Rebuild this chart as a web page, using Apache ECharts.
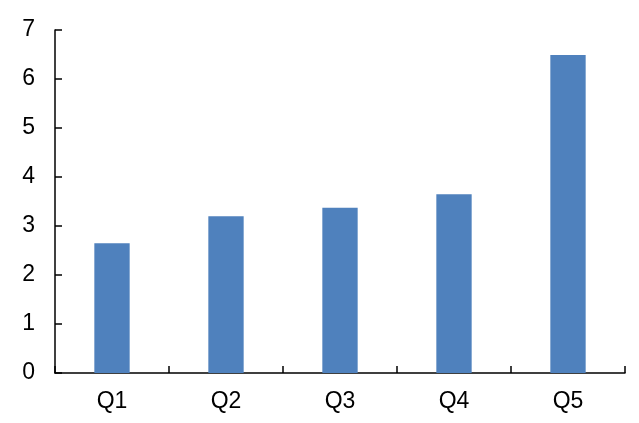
<!DOCTYPE html>
<html><head><meta charset="utf-8">
<script src="https://cdn.jsdelivr.net/npm/echarts@6/dist/echarts.min.js"></script>
<style>html,body{margin:0;padding:0;background:#fff}#c{width:639px;height:423px}</style>
</head><body><div id="c"></div>
<script>
var categories = ['Q1','Q2','Q3','Q4','Q5'];
var values = [2.65, 3.2, 3.37, 3.65, 6.49];
var yTicks = [0,1,2,3,4,5,6,7];
var chart = echarts.init(document.getElementById('c'), null, {renderer:'canvas'});
chart.setOption({
  backgroundColor:'#ffffff',
  animation:false,
  grid:{left:55,right:14,top:30,bottom:50,containLabel:false},
  xAxis:{type:'category',data:categories,
    axisLine:{lineStyle:{color:'#000',width:1.5}},
    axisTick:{show:true,inside:true,length:7,lineStyle:{color:'#000',width:1.5}},
    axisLabel:{color:'#000',fontSize:23,fontFamily:'Liberation Sans, Arial, sans-serif',margin:17}
  },
  yAxis:{type:'value',min:0,max:7,interval:1,
    axisLine:{show:true,lineStyle:{color:'#000',width:1.5}},
    axisTick:{show:true,inside:true,length:7,lineStyle:{color:'#000',width:1.5}},
    splitLine:{show:false},
    axisLabel:{color:'#000',fontSize:23,fontFamily:'Liberation Sans, Arial, sans-serif',margin:20,
      formatter:function(v){return yTicks.indexOf(v)>=0?String(v):'';}}
  },
  series:[{type:'bar',data:values,barWidth:'31%',itemStyle:{color:'#4f81bd'}}]
});
</script></body></html>
